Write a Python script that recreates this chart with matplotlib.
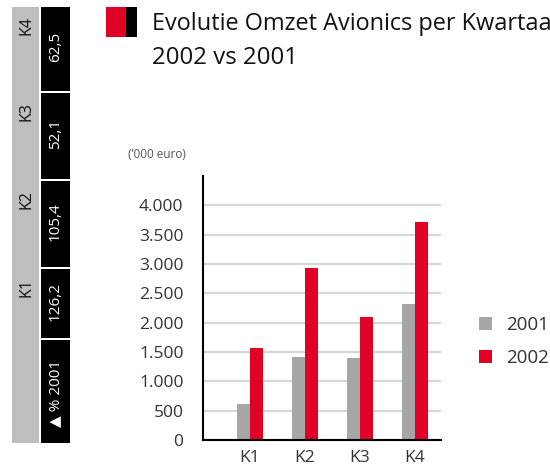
import matplotlib
matplotlib.use("Agg")
import matplotlib.pyplot as plt
from matplotlib.patches import Rectangle
import numpy as np

plt.rcParams['font.family'] = ['Open Sans', 'DejaVu Sans']

# ---- data ----
quarters = ["K1", "K2", "K3", "K4"]
omzet_2001 = [620, 1420, 1405, 2310]
omzet_2002 = [1560, 2940, 2105, 3710]
series_labels = ["2001", "2002"]
yticks = [0, 500, 1000, 1500, 2000, 2500, 3000, 3500, 4000]
ytick_labels = ["0", "500", "1.000", "1.500", "2.000", "2.500", "3.000", "3.500", "4.000"]
pct_vs_2001 = ["126,2", "105,4", "52,1", "62,5"]
pct_header = "\u25b2 % 2001"
title_line1 = "Evolutie Omzet Avionics per Kwartaal"
title_line2 = "2002 vs 2001"
unit_label = "(\u2019000 euro)"

# ---- colours ----
c_gray = "#a6a6a6"
c_red = "#e10026"
c_side_gray = "#bebebe"
c_text = "#333333"

W, H = 550, 465
fig = plt.figure(figsize=(W / 100, H / 100), dpi=100)

# background overlay axes in pixel coordinates
bg = fig.add_axes([0, 0, 1, 1])
bg.set_xlim(0, W)
bg.set_ylim(H, 0)
bg.axis("off")

# sidebar
bg.add_patch(Rectangle((12, 7), 27, 436, color=c_side_gray, lw=0))
box_spans = [(269, 338), (181, 267), (93, 179), (7, 91)]  # K1..K4
for q, v, (y0, y1) in zip(quarters, pct_vs_2001, box_spans):
    bg.add_patch(Rectangle((41, y0), 29, y1 - y0, color="black", lw=0))
    bg.text(26.5, y0 + 19, q, rotation=90, ha="center", va="center",
            fontsize=11.5, color="#111111")
    bg.text(55.5, (y0 + y1) / 2 - 2, v, rotation=90, ha="center", va="center",
            fontsize=11, color="white")
bg.add_patch(Rectangle((41, 340), 29, 103, color="black", lw=0))
bg.text(55.5, 393, pct_header, rotation=90, ha="center", va="center",
        fontsize=11, color="white")

# title block
bg.add_patch(Rectangle((106, 7), 20, 30, color=c_red, lw=0))
bg.add_patch(Rectangle((126, 7), 11, 30, color="black", lw=0))
bg.text(152, 29.5, title_line1, ha="left", va="baseline", fontsize=16.9, color="#111111")
bg.text(152, 63.5, title_line2, ha="left", va="baseline", fontsize=17.3, color="#111111")
bg.text(128, 154, unit_label, ha="left", va="center", fontsize=8.5, color="#555555")

# main chart
left, right, top, bottom = 203, 441, 176, 440
ax = fig.add_axes([left / W, 1 - bottom / H, (right - left) / W, (bottom - top) / H])
x = np.arange(len(quarters))
bw = 0.236
ax.bar(x - bw / 2, omzet_2001, width=bw, color=c_gray, label=series_labels[0], zorder=3)
ax.bar(x + bw / 2, omzet_2002, width=bw, color=c_red, label=series_labels[1], zorder=3)
ax.set_xlim(-0.855, 3.473)
ax.set_ylim(0, 4500)
ax.set_yticks(yticks)
ax.set_yticklabels(ytick_labels)
ax.set_xticks(x)
ax.set_xticklabels(quarters)
ax.tick_params(axis="both", length=0, labelsize=12.5, colors=c_text)
ax.tick_params(axis="y", pad=14)
ax.tick_params(axis="x", pad=7)
ax.yaxis.grid(True, color="#d6d6d6", lw=1.6, zorder=0)
ax.set_axisbelow(True)
for s in ["top", "right"]:
    ax.spines[s].set_visible(False)
for s in ["left", "bottom"]:
    ax.spines[s].set_color("black")
    ax.spines[s].set_linewidth(1.5)
    ax.spines[s].set_zorder(4)

leg = ax.legend(loc="upper left", bbox_to_anchor=((479 - left) / (right - left), (bottom - 316) / (bottom - top)),
                frameon=False, fontsize=13.5, handlelength=0.7, handleheight=0.7,
                handletextpad=0.75, labelspacing=0.78, borderaxespad=0, borderpad=0)
for t in leg.get_texts():
    t.set_color(c_text)

fig.savefig("out.png", dpi=100)
